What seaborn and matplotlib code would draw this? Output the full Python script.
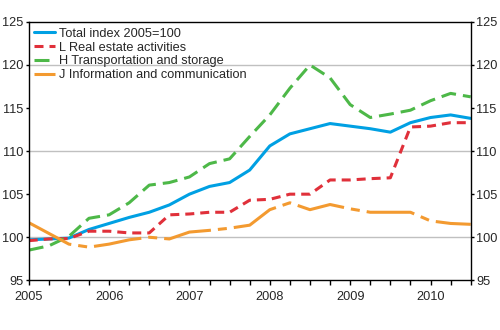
import matplotlib
matplotlib.use("Agg")
import matplotlib.pyplot as plt
import matplotlib.ticker as mticker
import numpy as np
import pandas as pd
import seaborn as sns

# Quarterly observations 2005Q1 .. 2010Q3
quarters = [2005 + k / 4 for k in range(23)]

total = [99.7, 99.8, 99.9, 100.9, 101.6, 102.3, 102.9, 103.75, 105.0, 105.9, 106.35, 107.8,
         110.6, 112.0, 112.6, 113.2, 112.9, 112.6, 112.2, 113.3, 113.9, 114.2, 113.8]
real_estate = [99.6, 99.8, 99.85, 100.7, 100.7, 100.5, 100.5, 102.6, 102.7, 102.9, 102.9, 104.3,
               104.4, 105.0, 105.0, 106.65, 106.65, 106.8, 106.9, 112.8, 112.9, 113.3, 113.3]
transport = [98.5, 99.0, 100.1, 102.2, 102.6, 104.0, 106.05, 106.35, 107.0, 108.55, 109.1, 111.7,
             114.2, 117.3, 120.0, 118.5, 115.4, 113.9, 114.3, 114.75, 115.85, 116.7, 116.3]
info = [101.7, 100.45, 99.2, 98.85, 99.2, 99.7, 100.0, 99.8, 100.6, 100.8, 101.05, 101.4,
        103.2, 104.0, 103.2, 103.8, 103.3, 102.9, 102.9, 102.9, 101.9, 101.6, 101.5]

series_names = ["Total index 2005=100", "L Real estate activities",
                "H Transportation and storage", "J Information and communication"]
year_ticks = [2005, 2006, 2007, 2008, 2009, 2010]
y_ticks = [95, 100, 105, 110, 115, 120, 125]

df = pd.DataFrame({
    "x": quarters * 4,
    "value": total + real_estate + transport + info,
    "series": np.repeat(series_names, len(quarters)),
})

colors = {
    series_names[0]: "#00A0E3",
    series_names[1]: "#E0303A",
    series_names[2]: "#4DB848",
    series_names[3]: "#F39A30",
}
lw_pt = 2.2
px = 72 / 100 / lw_pt  # pixels -> linewidth units
dashes = {
    series_names[0]: "",
    series_names[1]: (9 * px, 6 * px),
    series_names[2]: (15 * px, 7 * px),
    series_names[3]: (48 * px, 7 * px, 9 * px, 7 * px),
}

sns.set_style("ticks")
plt.rcParams["font.family"] = ["Liberation Sans", "DejaVu Sans"]

fig = plt.figure(figsize=(5.0, 3.3), dpi=100)
ax = fig.add_axes([0.0574, 0.1506, 0.884, 0.783])

for y in [100, 110, 120]:
    ax.axhline(y, color="#C0C0C0", lw=1.0, zorder=0)

sns.lineplot(data=df, x="x", y="value", hue="series", style="series",
             palette=colors, dashes=dashes, hue_order=series_names,
             style_order=series_names, estimator=None, sort=False,
             linewidth=lw_pt, legend=False, ax=ax)

ax.set_xlim(2005, 2010.5)
ax.set_ylim(95, 125)
ax.set_xlabel("")
ax.set_ylabel("")
ax.xaxis.set_major_locator(mticker.FixedLocator(year_ticks))
ax.xaxis.set_major_formatter(mticker.FixedFormatter([str(y) for y in year_ticks]))
ax.xaxis.set_minor_locator(mticker.MultipleLocator(0.25))
ax.yaxis.set_major_locator(mticker.FixedLocator(y_ticks))
ax.yaxis.set_major_formatter(mticker.FixedFormatter([str(v) for v in y_ticks]))

for s in ax.spines.values():
    s.set_visible(True)
    s.set_color("black")
    s.set_linewidth(1.0)

ax.tick_params(axis="x", which="both", direction="out", length=3.5, width=1.0,
               color="black", labelsize=9.2, pad=4)
ax.tick_params(axis="y", which="both", direction="out", length=2.5, width=1.0,
               color="black", labelsize=9.2, pad=1.5, left=True, right=True,
               labelleft=True, labelright=True)

handles = ax.get_lines()[3:]
leg = ax.legend(handles, series_names, loc="upper left", bbox_to_anchor=(0.0, 1.0),
                frameon=False, fontsize=9.2, handlelength=1.6, handletextpad=0.3,
                labelspacing=0.15, borderaxespad=0.0, borderpad=0.45)

fig.savefig("out.png", dpi=100)
